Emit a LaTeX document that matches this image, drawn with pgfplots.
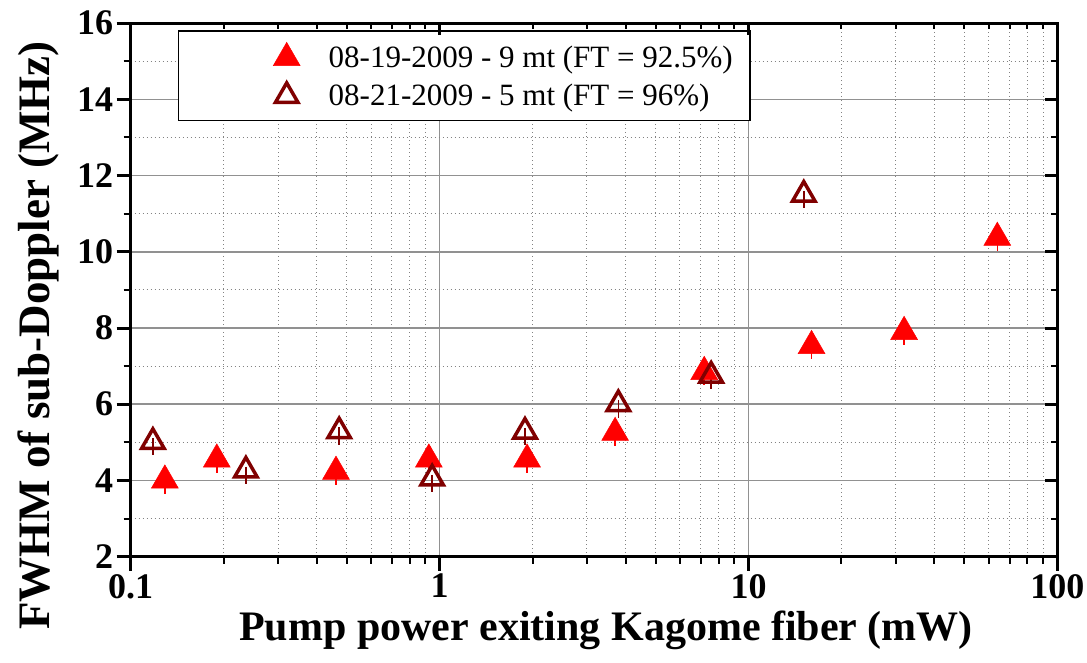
\documentclass[border=0pt]{standalone}
\usepackage{fontspec}
\setmainfont{Liberation Serif}
\usepackage{pgfplots}
\pgfplotsset{compat=1.18}
\definecolor{darkred}{RGB}{128,0,0}
\definecolor{gridmajor}{RGB}{145,145,145}
\definecolor{gridminor}{RGB}{130,130,130}

\begin{document}
\begin{tikzpicture}
% main axis: grid, labels, outward ticks on the left and bottom
\begin{axis}[
  name=main,
  scale only axis, width=926.7pt, height=533.4pt,
  xmode=log, xmin=0.1, xmax=100, ymin=2, ymax=16,
  xtick={0.1,1,10,100}, xticklabels={0.1,1,10,100},
  ytick={2,4,...,16}, minor y tick num=1,
  tick pos=left, tick align=outside,
  major tick length=14pt, minor tick length=7pt,
  major tick style={black, line width=3pt},
  minor tick style={black, line width=2pt},
  axis line style={black, line width=3pt},
  grid=both,
  major grid style={gridmajor, line width=1.5pt, solid},
  minor grid style={gridminor, line width=1pt, dash pattern=on 1pt off 3pt},
  ticklabel style={font=\fontsize{36}{39}\selectfont\bfseries},
  /pgf/number format/assume math mode=true,
  xlabel={Pump power exiting Kagome fiber (mW)},
  ylabel={FWHM of sub-Doppler (MHz)},
  xlabel style={font=\fontsize{42}{46}\selectfont\bfseries,
    at={(axis description cs:0.513,-0.158)}, anchor=base},
  ylabel style={font=\fontsize{45}{49}\selectfont\bfseries,
    at={(axis description cs:-0.088,0.4145)}, anchor=base, rotate=0},
  legend image code/.code={%
    \path[draw=none, fill=none] (0pt,-14pt) rectangle (133pt,14pt);
    \draw[#1] plot coordinates {(91pt,3pt)};
  },
  legend cell align=left,
  legend style={at={(axis description cs:0.051,0.987)}, anchor=north west,
    draw=black, line width=1.5pt, fill=white,
    inner xsep=17pt, inner ysep=11.5pt, row sep=10pt, column sep=0pt,
    nodes={inner sep=0pt, font=\fontsize{31}{34}\selectfont}},
]
\addplot[only marks, red, mark=triangle*, mark size=15.5pt,
  mark options={fill=red, draw=red, line width=0.5pt, yshift=-3.75pt},
  error bars/.cd, y dir=minus, y explicit,
  error bar style={red, line width=1.5pt}, error mark=none]
  coordinates {
  (0.129,4.10) +- (0,0.45)
  (0.190,4.65) +- (0,0.45)
  (0.462,4.33) +- (0,0.45)
  (0.923,4.65) +- (0,0.45)
  (1.92,4.65)  +- (0,0.45)
  (3.70,5.35)  +- (0,0.45)
  (7.19,6.95)  +- (0,0.45)
  (16.0,7.63)  +- (0,0.45)
  (31.9,8.00)  +- (0,0.45)
  (63.9,10.47) +- (0,0.45)
};
\addlegendentry{08-19-2009 - 9 mt (FT = 92.5\%)}
\addplot[only marks, darkred, mark=triangle, mark size=13pt,
  mark options={fill=white, draw=darkred, line width=3.5pt, yshift=-3.75pt},
  error bars/.cd, y dir=minus, y explicit,
  error bar style={darkred, line width=1.5pt}, error mark=none]
  coordinates {
  (0.118,5.11) +- (0,0.45)
  (0.236,4.36) +- (0,0.45)
  (0.473,5.39) +- (0,0.45)
  (0.946,4.15) +- (0,0.45)
  (1.89,5.38)  +- (0,0.45)
  (3.79,6.10)  +- (0,0.45)
  (7.57,6.85)  +- (0,0.45)
  (15.1,11.60) +- (0,0.45)
};
\addlegendentry{08-21-2009 - 5 mt (FT = 96\%)}
\end{axis}
% overlay: inward ticks on the top and right
\begin{axis}[
  scale only axis, width=926.7pt, height=533.4pt,
  xmode=log, xmin=0.1, xmax=100, ymin=2, ymax=16,
  xtick={0.1,1,10,100}, xticklabels={},
  ytick={2,4,...,16}, yticklabels={}, minor y tick num=1,
  tick pos=right, tick align=inside,
  major tick length=12pt, minor tick length=6pt,
  major tick style={black, line width=3pt},
  minor tick style={black, line width=2pt},
  axis line style={black, line width=3pt},
]
\end{axis}
\pgfresetboundingbox
\path (-130.7pt,-105.4pt) rectangle ++(1087pt,662pt);
\end{tikzpicture}
\end{document}
